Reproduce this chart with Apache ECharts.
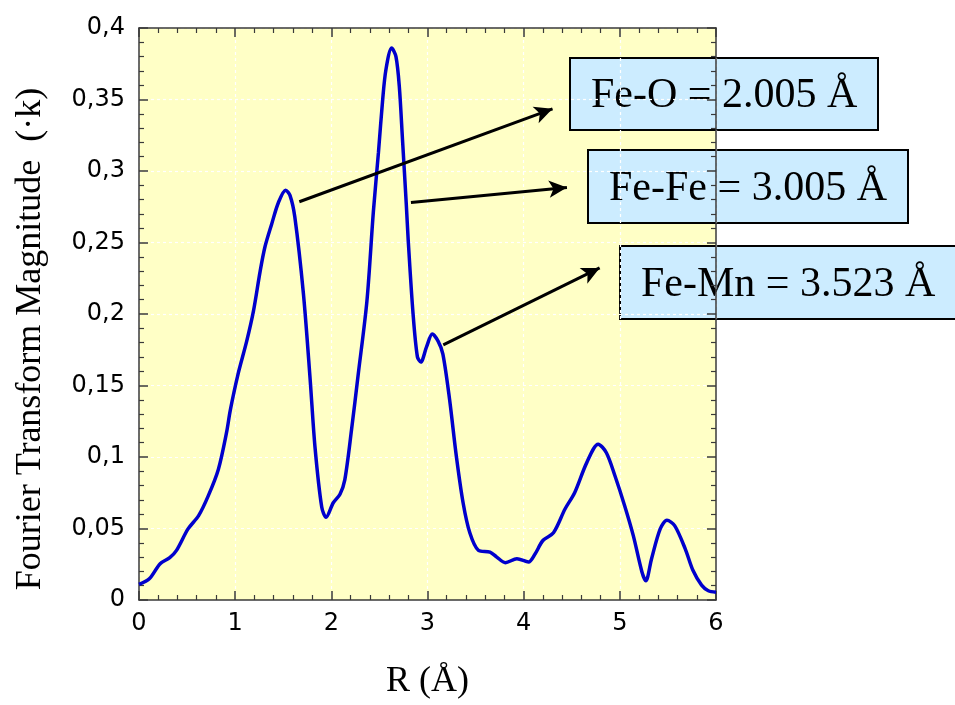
<!DOCTYPE html>
<html>
<head>
<meta charset="utf-8">
<script src="https://cdn.jsdelivr.net/npm/echarts@6/dist/echarts.min.js"></script>
<style>
html,body{margin:0;padding:0;background:#fff;}
#c{width:955px;height:705px;}
</style>
</head>
<body>
<div id="c"></div>
<script>
// R values (Å)
const rValues = [0, 0.11, 0.22, 0.32, 0.39, 0.51, 0.62, 0.72, 0.825, 0.91, 0.95, 1.03, 1.12, 1.19, 1.26, 1.31, 1.38, 1.45, 1.525, 1.57, 1.62, 1.71, 1.78, 1.83, 1.90, 1.945, 2.02, 2.09, 2.14, 2.21, 2.28, 2.37, 2.437, 2.49, 2.534, 2.568, 2.627, 2.672, 2.707, 2.74, 2.78, 2.80, 2.85, 2.895, 2.93, 2.99, 3.05, 3.11, 3.16, 3.23, 3.30, 3.37, 3.44, 3.53, 3.65, 3.72, 3.81, 3.93, 4.05, 4.12, 4.20, 4.31, 4.43, 4.53, 4.655, 4.775, 4.86, 4.95, 5.05, 5.14, 5.23, 5.27, 5.33, 5.42, 5.49, 5.57, 5.68, 5.76, 5.85, 5.92, 6.0];
// Fourier transform magnitude
const ftMagnitude = [0.0109, 0.015, 0.0254, 0.0296, 0.0347, 0.0497, 0.059, 0.0728, 0.0913, 0.117, 0.133, 0.158, 0.181, 0.202, 0.230, 0.247, 0.263, 0.278, 0.2866, 0.283, 0.268, 0.214, 0.154, 0.107, 0.065, 0.0578, 0.068, 0.074, 0.084, 0.119, 0.158, 0.209, 0.2715, 0.313, 0.350, 0.371, 0.386, 0.380, 0.359, 0.322, 0.276, 0.251, 0.200, 0.170, 0.1664, 0.177, 0.186, 0.181, 0.172, 0.140, 0.1005, 0.068, 0.047, 0.0347, 0.0335, 0.030, 0.0261, 0.0289, 0.0266, 0.0324, 0.0416, 0.047, 0.0636, 0.075, 0.0959, 0.109, 0.103, 0.0867, 0.0659, 0.045, 0.0196, 0.0134, 0.0289, 0.0497, 0.0557, 0.052, 0.0358, 0.0208, 0.0104, 0.0065, 0.0055];
const xTicks = [0, 1, 2, 3, 4, 5, 6];
const yTicks = [0, 0.05, 0.1, 0.15, 0.2, 0.25, 0.3, 0.35, 0.4];
const annotationLabels = ['Fe-O = 2.005 Å', 'Fe-Fe = 3.005 Å', 'Fe-Mn = 3.523 Å'];

const seriesData = rValues.map((r, i) => [r, ftMagnitude[i]]);

// annotation arrows (data coordinates: start on curve -> tip near label box)
const arrowFeO = [[1.667, 0.2785], [4.30, 0.3435]];
const arrowFeFe = [[2.828, 0.278], [4.45, 0.2885]];
const arrowFeMn = [[3.164, 0.1784], [4.79, 0.2322]];

const tickFont = 'DejaVu Sans';
const serif = '"Liberation Serif", "Times New Roman", serif';
const axisColor = '#3a3a3a';

function commaFmt(v) { return String(Math.round(v * 1000) / 1000).replace('.', ','); }

const baseX = {
  type: 'value', min: xTicks[0], max: xTicks[xTicks.length - 1], interval: 1,
  axisLine: { show: true, onZero: false, lineStyle: { color: axisColor, width: 1.5 } },
  axisTick: { show: true, inside: true, length: 9, lineStyle: { color: axisColor, width: 1.5 } },
  minorTick: { show: true, splitNumber: 5, length: 5, lineStyle: { color: axisColor, width: 1.2 } },
};
const baseY = {
  type: 'value', min: yTicks[0], max: yTicks[yTicks.length - 1], interval: 0.05,
  axisLine: { show: true, onZero: false, lineStyle: { color: axisColor, width: 1.5 } },
  axisTick: { show: true, inside: true, length: 9, lineStyle: { color: axisColor, width: 1.5 } },
  minorTick: { show: true, splitNumber: 5, length: 5, lineStyle: { color: axisColor, width: 1.2 } },
};

const boxes = [
  { x: 569, y: 57, w: 308, h: 72 },
  { x: 587, y: 149, w: 320, h: 73 },
  { x: 619, y: 245, w: 340, h: 73 },
];

const chart = echarts.init(document.getElementById('c'), null, { renderer: 'canvas' });
chart.setOption({
  animation: false,
  backgroundColor: '#ffffff',
  grid: { left: 139, top: 28, width: 577, height: 577, show: true, backgroundColor: '#FFFFC6', borderWidth: 0 },
  xAxis: [
    Object.assign({}, baseX, {
      position: 'bottom',
      name: 'R (Å)', nameLocation: 'middle', nameGap: 64,
      nameTextStyle: { fontFamily: serif, fontSize: 36, color: '#000' },
      axisLabel: { show: true, margin: 12, fontFamily: tickFont, fontSize: 24, color: '#000', formatter: commaFmt },
      splitLine: { show: true, lineStyle: { color: '#ffffff', width: 1.2, type: [3, 3] } },
    }),
    Object.assign({}, baseX, {
      position: 'top',
      axisLabel: { show: false },
      splitLine: { show: false },
    }),
  ],
  yAxis: [
    Object.assign({}, baseY, {
      position: 'left',
      name: 'Fourier Transform Magnitude  (·k)', nameLocation: 'middle', nameGap: 90,
      nameTextStyle: { fontFamily: serif, fontSize: 36, color: '#000', padding: [0, 50, 0, 0] },
      axisLabel: { show: true, margin: 14, fontFamily: tickFont, fontSize: 24, color: '#000', formatter: commaFmt },
      splitLine: { show: true, lineStyle: { color: '#ffffff', width: 1.2, type: [3, 3] } },
    }),
    Object.assign({}, baseY, {
      position: 'right',
      axisLabel: { show: false },
      splitLine: { show: false },
    }),
  ],
  series: [{
    type: 'line',
    data: seriesData,
    xAxisIndex: 0, yAxisIndex: 0,
    showSymbol: false,
    smooth: 0.3,
    lineStyle: { color: '#0000CC', width: 3.5 },
    z: 3,
    markLine: {
      silent: true,
      symbol: ['none', 'arrow'],
      symbolSize: [13, 18],
      label: { show: false },
      lineStyle: { color: '#000', width: 3, type: 'solid' },
      data: [arrowFeO, arrowFeFe, arrowFeMn].map(a => [{ coord: a[0] }, { coord: a[1] }]),
      z: 4,
    },
  }],
  graphic: boxes.map((b, i) => ({
    type: 'group',
    left: b.x, top: b.y,
    z: 10,
    children: [
      { type: 'rect', shape: { x: 0, y: 0, width: b.w, height: b.h }, style: { fill: '#CCECFF', stroke: '#000', lineWidth: 2 } },
      { type: 'text', x: 21, y: b.h / 2 + 2, style: { text: annotationLabels[i], font: '42px ' + serif, fill: '#000', textVerticalAlign: 'middle', textAlign: 'left' } },
    ],
  })),
});
</script>
</body>
</html>
